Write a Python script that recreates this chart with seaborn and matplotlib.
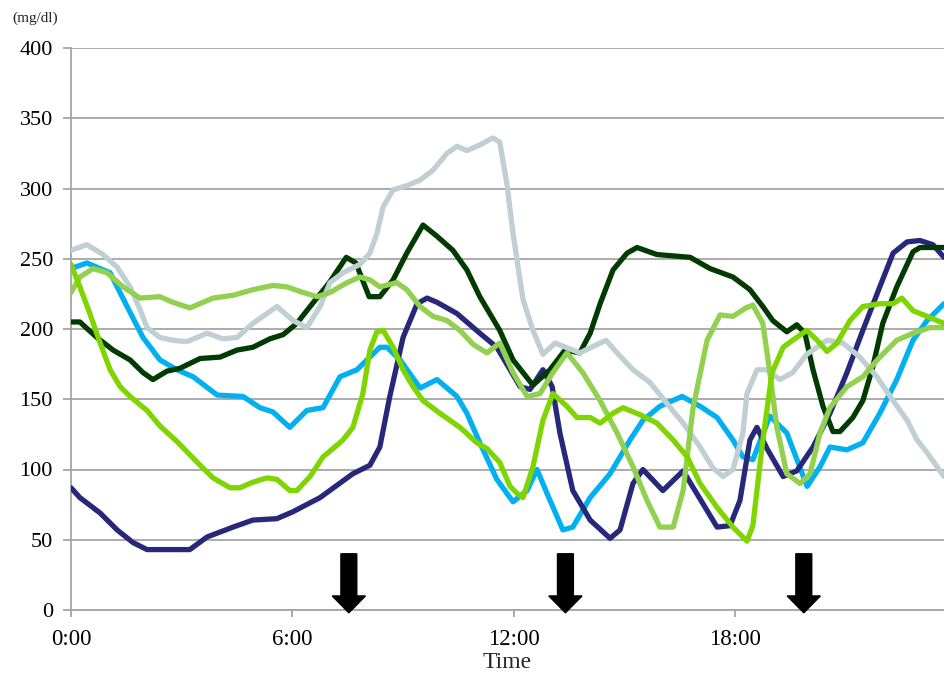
import numpy as np
import pandas as pd
import matplotlib
matplotlib.use("Agg")
import matplotlib.pyplot as plt
import seaborn as sns

# Continuous glucose readings (mg/dl) over one day, time in hours since 0:00
blue_t = [0, 0.43, 1.06, 1.52, 1.95, 2.41, 2.87, 3.31, 3.96, 4.66, 5.12, 5.47, 5.93, 6.39, 6.83,
          7.29, 7.75, 8.37, 8.56, 8.92, 9.46, 9.92, 10.46, 10.73, 11.08, 11.54, 11.98, 12.36, 12.63,
          12.9, 13.33, 13.6, 14.07, 14.61, 15.15, 15.5, 15.96, 16.56, 17.05, 17.51, 17.94, 18.21,
          18.48, 18.94, 19.4, 19.95, 20.3, 20.57, 21.03, 21.46, 21.92, 22.38, 22.82, 23.2, 23.66]
blue_v = [243, 247, 240, 216, 194, 178, 171, 166, 153, 152, 144, 141, 130, 142, 144,
          166, 171, 187, 187, 178, 158, 164, 152, 140, 119, 93, 77, 85, 100,
          83, 57, 59, 80, 97, 121, 135, 145, 152, 145, 137, 121, 109,
          107, 138, 126, 88, 102, 116, 114, 119, 140, 164, 192, 206, 218]

navy_t = [0, 0.24, 0.79, 1.25, 1.68, 2.06, 3.22, 3.69, 4.39, 4.93, 5.58, 6.02, 6.75, 7.64, 8.1,
          8.37, 8.64, 9.0, 9.38, 9.65, 9.92, 10.46, 11.08, 11.54, 11.9, 12.17, 12.44, 12.79, 13.04,
          13.25, 13.6, 14.07, 14.61, 14.88, 15.23, 15.5, 16.04, 16.59, 17.05, 17.51, 17.86, 18.13,
          18.4, 18.59, 18.86, 19.3, 19.67, 20.11, 20.57, 21.03, 21.46, 21.92, 22.28, 22.66, 23.01,
          23.36, 23.66]
navy_v = [87, 80, 69, 57, 48, 43, 43, 52, 59, 64, 65, 70, 80, 97, 103,
          116, 152, 194, 218, 222, 219, 211, 197, 187, 171, 159, 157, 171, 159,
          126, 85, 64, 51, 57, 90, 100, 85, 99, 79, 59, 60, 78,
          121, 130, 115, 95, 99, 116, 140, 169, 199, 230, 254, 262, 263,
          260, 251]

dgreen_t = [0, 0.24, 0.7, 1.14, 1.6, 1.95, 2.22, 2.6, 2.95, 3.5, 4.04, 4.5, 4.93, 5.39, 5.75,
            6.12, 6.48, 7.0, 7.46, 7.72, 8.08, 8.37, 8.73, 9.1, 9.54, 9.92, 10.35, 10.73, 11.08,
            11.62, 11.98, 12.52, 12.98, 13.39, 13.79, 14.07, 14.34, 14.69, 15.07, 15.34, 15.88,
            16.78, 17.32, 17.94, 18.4, 18.75, 19.02, 19.4, 19.67, 19.89, 20.11, 20.38, 20.65,
            20.84, 21.19, 21.46, 21.73, 22.0, 22.38, 22.82, 23.01, 23.66]
dgreen_v = [205, 205, 194, 185, 178, 169, 164, 170, 172, 179, 180, 185, 187, 193, 196,
            204, 216, 233, 251, 247, 223, 223, 235, 254, 274, 266, 256, 242, 223,
            199, 178, 160, 171, 185, 183, 197, 218, 242, 254, 258, 253,
            251, 243, 237, 228, 216, 206, 198, 203, 197, 171, 145, 127,
            127, 137, 149, 173, 204, 230, 255, 258, 258]

gray_t = [0, 0.43, 0.87, 1.25, 1.6, 1.87, 2.06, 2.41, 2.76, 3.14, 3.69, 4.12, 4.5, 4.93, 5.58,
          6.02, 6.39, 6.75, 7.02, 7.37, 7.83, 8.1, 8.29, 8.46, 8.73, 9.1, 9.46, 9.81, 10.19, 10.46,
          10.73, 11.08, 11.43, 11.62, 11.81, 11.98, 12.25, 12.52, 12.79, 13.12, 13.79, 14.5, 14.8,
          15.23, 15.69, 16.15, 16.59, 17.05, 17.4, 17.67, 17.94, 18.21, 18.32, 18.59, 18.86, 19.21,
          19.56, 19.94, 20.49, 20.92, 21.38, 21.84, 22.28, 22.66, 22.93, 23.2, 23.66]
gray_v = [256, 260, 253, 244, 230, 214, 201, 194, 192, 191, 197, 193, 194, 204, 216,
          206, 201, 216, 233, 240, 246, 254, 268, 287, 299, 302, 306, 313, 325, 330,
          327, 331, 336, 333, 304, 268, 221, 199, 182, 190, 183, 192, 183,
          171, 162, 147, 133, 116, 101, 95, 100, 126, 154, 171, 171, 164,
          169, 182, 192, 190, 180, 166, 149, 135, 121, 112, 95]

lgreen_t = [0, 0.24, 0.6, 0.98, 1.41, 1.87, 2.41, 2.76, 3.22, 3.85, 4.39, 4.93, 5.47, 5.85, 6.29,
            6.67, 7.02, 7.48, 7.83, 8.1, 8.37, 8.83, 9.1, 9.46, 9.81, 10.19, 10.54, 10.9, 11.27,
            11.62, 11.98, 12.36, 12.71, 13.06, 13.44, 13.87, 14.34, 14.8, 15.23, 15.61, 15.96,
            16.32, 16.59, 16.86, 17.24, 17.59, 17.94, 18.29, 18.48, 18.75, 18.94, 19.13, 19.4,
            19.76, 20.03, 20.3, 20.57, 21.03, 21.46, 21.92, 22.38, 22.82, 23.28, 23.66]
lgreen_v = [226, 237, 243, 240, 230, 222, 223, 219, 215, 222, 224, 228, 231, 230, 226,
            223, 226, 233, 237, 235, 230, 233, 228, 216, 209, 206, 199, 189, 183,
            190, 169, 152, 154, 169, 183, 169, 149, 126, 102, 78, 59,
            59, 85, 144, 192, 210, 209, 215, 217, 204, 169, 130, 97,
            90, 97, 126, 144, 159, 166, 180, 192, 197, 201, 201]

lime_t = [0, 0.24, 0.51, 0.79, 1.06, 1.33, 1.6, 2.06, 2.41, 2.87, 3.5, 3.85, 4.31, 4.58, 4.93,
          5.31, 5.58, 5.93, 6.12, 6.48, 6.83, 7.15, 7.37, 7.64, 7.91, 8.1, 8.29, 8.46, 8.73, 9.0,
          9.27, 9.54, 10.0, 10.54, 11.0, 11.27, 11.62, 11.9, 12.09, 12.25, 12.52, 12.79, 13.06,
          13.44, 13.71, 14.07, 14.34, 14.69, 14.96, 15.42, 15.88, 16.32, 16.7, 17.05, 17.51,
          17.94, 18.32, 18.48, 18.75, 19.0, 19.3, 19.56, 19.94, 20.22, 20.49, 20.76, 21.11,
          21.46, 21.92, 22.28, 22.52, 22.82, 23.2, 23.66]
lime_v = [246, 230, 211, 190, 171, 159, 152, 142, 131, 120, 103, 94, 87, 87, 91,
          94, 93, 85, 85, 95, 109, 116, 121, 130, 154, 185, 198, 199, 187, 171,
          159, 149, 140, 130, 119, 115, 105, 88, 83, 80, 102, 135, 154,
          145, 137, 137, 133, 140, 144, 139, 133, 121, 109, 90, 73,
          59, 49, 60, 121, 169, 187, 192, 199, 192, 184, 190, 206,
          216, 218, 218, 222, 213, 209, 204]

meal_times = [7.53, 13.4, 19.86]

y_ticks = [0, 50, 100, 150, 200, 250, 300, 350, 400]
x_ticks = [0, 6, 12, 18]
x_tick_labels = ["0:00", "6:00", "12:00", "18:00"]

series = [
    ("A", blue_t, blue_v, "#00B0F0"),
    ("B", navy_t, navy_v, "#28287A"),
    ("C", dgreen_t, dgreen_v, "#023B02"),
    ("D", gray_t, gray_v, "#BFCFD3"),
    ("E", lgreen_t, lgreen_v, "#92D050"),
    ("F", lime_t, lime_v, "#7ED500"),
]

frames = [pd.DataFrame({"hour": t, "glucose": v, "subject": name}) for name, t, v, _ in series]
df = pd.concat(frames, ignore_index=True)
palette = {name: c for name, _, _, c in series}

sns.set_style("white")
plt.rcParams["font.family"] = ["Liberation Serif", "DejaVu Serif"]

fig = plt.figure(figsize=(9.44, 6.75), dpi=100)
ax = fig.add_axes([71 / 944, 65 / 675, 873 / 944, 562 / 675])

sns.lineplot(data=df, x="hour", y="glucose", hue="subject", palette=palette,
             estimator=None, sort=False, linewidth=3.8, legend=False, ax=ax, zorder=3)
for ln in ax.get_lines():
    ln.set_solid_capstyle("round")
    ln.set_solid_joinstyle("round")

ax.set_xlim(0, 23.66)
ax.set_ylim(0, 400)
ax.set_yticks(y_ticks)
ax.set_xticks(x_ticks)
ax.set_xticklabels(x_tick_labels)
ax.yaxis.grid(True, color="#A5A5A5", linewidth=1.3)
ax.xaxis.grid(False)
ax.set_axisbelow(True)

for side in ("top", "right"):
    ax.spines[side].set_visible(False)
for side in ("left", "bottom"):
    ax.spines[side].set_color("#A5A5A5")
    ax.spines[side].set_linewidth(1.3)

ax.tick_params(axis="y", which="both", direction="out", length=6, width=1.3,
               color="#A5A5A5", labelsize=16, pad=7, labelcolor="black", left=True)
ax.tick_params(axis="x", which="both", direction="out", length=5, width=1.3,
               color="#A5A5A5", labelsize=16.5, pad=9, labelcolor="black", bottom=True)

ax.set_xlabel("Time", fontsize=17, labelpad=1)
ax.set_ylabel("")
fig.text(12 / 944, 1 - 18 / 675, "(mg/dl)", fontsize=11, va="center", ha="left")

# Meal markers
for mt in meal_times:
    ax.arrow(mt, 40, 0, -42, width=0.43, head_width=0.9, head_length=12,
             length_includes_head=True, color="black", clip_on=False, zorder=4)

fig.savefig("out.png", dpi=100)
